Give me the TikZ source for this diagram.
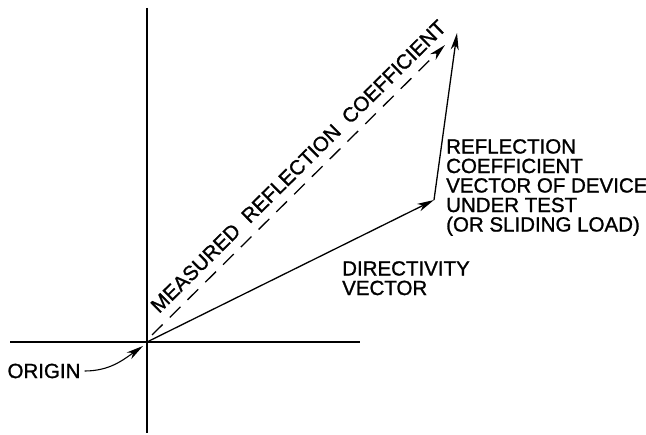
\documentclass[tikz,border=0pt]{standalone}
\usepackage{fontspec}
\setmainfont{Liberation Sans}
\newfontfamily\lettering{Liberation Sans}[FakeBold=1.2]
\usepackage{tikz}
\usetikzlibrary{arrows.meta,positioning,calc}

\begin{document}
\begin{tikzpicture}[
  x=1pt, y=-1pt,
  axis/.style={line width=1.8pt},
  vec/.style={-{Stealth[length=17pt,width=8pt,inset=5pt]}, line width=1.3pt},
  meas/.style={vec, dash pattern=on 15pt off 10pt},
  lbl/.style={font=\lettering\fontsize{20.5}{19.5}\selectfont, inner sep=0pt, align=left}
]
\useasboundingbox (0,0) rectangle (646,435);
% axes
\coordinate (o) at (147,342);
\coordinate (ytop) at (147,8);
\coordinate (ybot) at (147,433);
\coordinate (xleft) at (10,342);
\coordinate (xright) at (360,342);
\draw[axis] (ytop) -- (ybot);
\draw[axis] (xleft) -- (xright);
% vectors
\coordinate (dir) at (434,200);
\coordinate (tip) at (457,33);
\coordinate (ms) at (152,335);
\coordinate (me) at (445,45);
\draw[vec] (o) -- (dir);
\draw[vec] (dir) -- (tip);
\draw[meas] (ms) -- node[lbl, sloped, above=9pt, pos=0.54] {MEASURED\ \ REFLECTION\ \ COEFFICIENT} (me);
% labels
\node[lbl, anchor=north west] (refl) at (446,139) {REFLECTION\\COEFFICIENT\\VECTOR OF DEVICE\\UNDER TEST\\(OR SLIDING LOAD)};
\node[lbl, anchor=north west] (dirlbl) at (342,261) {DIRECTIVITY\\VECTOR};
\node[lbl] (origin) at (44,371) {ORIGIN};
\coordinate (oend) at (143,346);
\draw[vec, line width=1.1pt] ([xshift=4pt]origin.east) to[out=0, in=215] (oend);
\end{tikzpicture}
\end{document}
